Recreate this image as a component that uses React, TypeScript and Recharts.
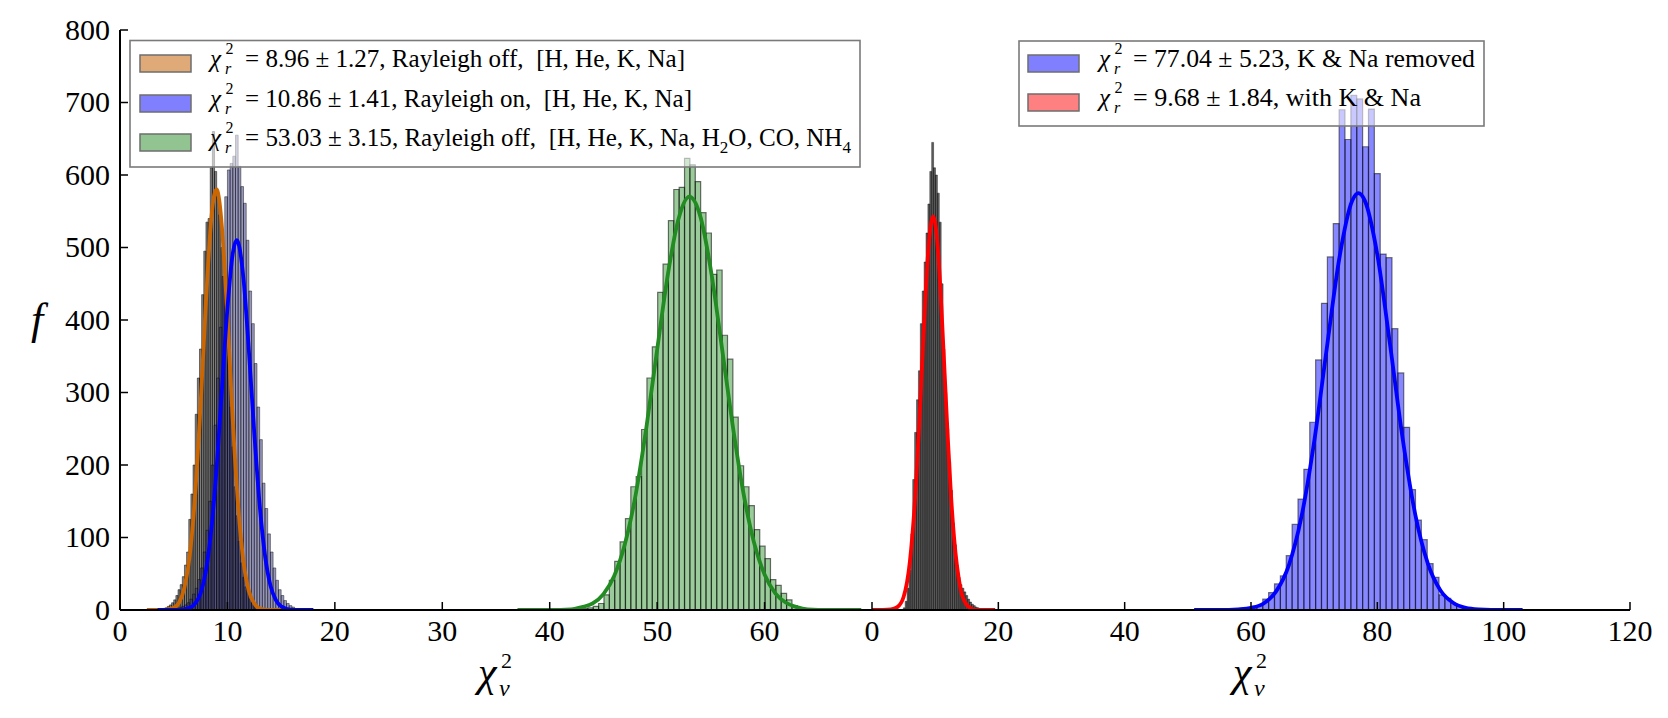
import React from 'react';
import { ComposedChart, Line, XAxis, YAxis, ReferenceArea } from 'recharts';

const FONT = "'Liberation Serif', 'DejaVu Serif', serif";

// ---------- shared axis values ----------
const fTicks = [0, 100, 200, 300, 400, 500, 600, 700, 800];
const leftXTicks = [0, 10, 20, 30, 40, 50, 60];
const rightXTicks = [0, 20, 40, 60, 80, 100, 120];

// ---------- left panel: histograms (uniform bins: start, width, counts) ----------
const offStart = 4.0;
const offWidth = 0.2;
const offCounts = [
  2, 3, 5, 7, 10, 14, 20, 28, 35, 46, 62, 80, 125, 160, 200, 270, 320, 360, 435, 495,
  535, 540, 610, 660, 605, 570, 545, 500, 460, 420, 350, 280, 225, 170, 130, 95, 65, 45,
  32, 24, 16, 11, 7, 5, 3, 2,
];

const onStart = 5.0;
const onWidth = 0.25;
const onCounts = [
  1, 2, 3, 5, 7, 10, 15, 22, 30, 42, 58, 80, 110, 150, 200, 255, 320, 390, 460, 570,
  607, 616, 626, 655, 612, 584, 561, 510, 440, 395, 340, 280, 235, 175, 140, 105, 80, 58,
  41, 28, 20, 13, 9, 6, 4, 2, 1,
];

const molStart = 41.55;
const molWidth = 0.5;
const molCounts = [
  1, 1, 1, 2, 3, 5, 9, 21, 41, 67, 94, 126, 170, 184, 249, 320, 363, 438, 477, 537, 580,
  583, 623, 614, 591, 548, 520, 463, 469, 379, 346, 266, 199, 170, 144, 111, 88, 71, 42,
  34, 23, 14, 6, 2, 1, 1, 0, 1,
];

// ---------- right panel: histograms ----------
const removedStart = 58.14;
const removedWidth = 0.93;
const removedCounts = [
  1, 2, 3, 6, 15, 24, 36, 47, 75, 118, 153, 194, 259, 345, 423, 487, 533, 690, 649, 710,
  705, 639, 691, 602, 491, 486, 388, 327, 252, 166, 124, 97, 64, 45, 21, 16, 9, 5, 3, 2, 1, 1,
];

const withStart = 4.95;
const withWidth = 0.3;
const withCounts = [
  3, 12, 30, 55, 105, 180, 245, 290, 330, 395, 440, 480, 520, 560, 605, 645, 610, 600, 575,
  535, 450, 360, 300, 250, 205, 165, 120, 90, 62, 45, 35, 30, 25, 20, 15, 11, 8, 6, 4, 3, 2,
];

// ---------- Gaussian fit curves (x, f) ----------
const offFitX = [2.5, 4, 5, 5.5, 6, 6.5, 7, 7.5, 8, 8.5, 8.75, 9, 9.25, 9.5, 10, 10.5, 11, 11.5, 12, 12.5, 13, 14, 15.5];
const offFitY = [0, 0, 3, 10, 31, 76, 160, 283, 425, 540, 571, 580, 564, 526, 403, 261, 143, 66, 26, 9, 2, 0, 0];

const onFitX = [3.5, 5.5, 6.5, 7, 7.5, 8, 8.5, 9, 9.5, 10, 10.5, 10.85, 11, 11.5, 12, 12.5, 13, 13.5, 14, 14.5, 15, 16, 18];
const onFitY = [0, 0, 3, 9, 23, 54, 111, 197, 307, 416, 492, 510, 507, 456, 357, 244, 145, 75, 34, 14, 5, 0, 0];

const molFitX = [37, 40, 42, 43, 44, 45, 46, 47, 48, 49, 50, 51, 52, 53, 54, 55, 56, 57, 58, 59, 60, 61, 62, 63, 64, 66, 69];
const molFitY = [0, 0, 1, 4, 9, 22, 47, 91, 159, 252, 359, 463, 540, 570, 544, 469, 365, 258, 164, 94, 49, 23, 10, 4, 1, 0, 0];

const withFitX = [0, 3, 4, 5, 6, 7, 7.5, 8, 8.5, 9, 9.68, 10, 10.5, 11, 11.5, 12, 12.5, 13, 14, 15, 16, 17, 19.5];
const withFitY = [0, 1, 4, 18, 67, 179, 261, 351, 438, 506, 543, 534, 489, 415, 326, 237, 159, 99, 30, 7, 1, 0, 0];

const removedFitX = [51, 55, 58, 60, 62, 64, 66, 68, 70, 72, 74, 76, 77, 78, 80, 82, 84, 86, 88, 90, 92, 94, 96, 100, 103];
const removedFitY = [0, 0, 1, 3, 9, 26, 62, 129, 232, 361, 486, 564, 575, 565, 490, 367, 237, 132, 64, 27, 10, 3, 1, 0, 0];

// ---------- legend labels ----------
type Seg = { t: string; sub?: boolean };
const leftLegend: { swatch: string; stat: Seg[] }[] = [
  { swatch: '#e0aa78', stat: [{ t: '= 8.96 ± 1.27, Rayleigh off,  [H, He, K, Na]' }] },
  { swatch: '#8080ff', stat: [{ t: '= 10.86 ± 1.41, Rayleigh on,  [H, He, K, Na]' }] },
  {
    swatch: '#92c492',
    stat: [
      { t: '= 53.03 ± 3.15, Rayleigh off,  [H, He, K, Na, H' },
      { t: '2', sub: true },
      { t: 'O, CO, NH' },
      { t: '4', sub: true },
    ],
  },
];
const rightLegend: { swatch: string; stat: Seg[] }[] = [
  { swatch: '#8080ff', stat: [{ t: '= 77.04 ± 5.23, K & Na removed' }] },
  { swatch: '#ff8080', stat: [{ t: '= 9.68 ± 1.84, with K & Na' }] },
];

// ---------- helpers ----------
const toBins = (start: number, width: number, counts: number[]) =>
  counts
    .map((c, i) => ({ x0: start + i * width, x1: start + (i + 1) * width, c }))
    .filter((b) => b.c > 0);

const toPoints = (xs: number[], ys: number[]) => xs.map((x, i) => ({ x, y: ys[i] }));

const TICK_FS = 30;
const XTick = (props: any) => {
  const { x, y, payload } = props;
  return (
    <text x={x} y={y} dy={TICK_FS * 0.68} textAnchor="middle" fontFamily={FONT} fontSize={TICK_FS} fill="#000">
      {payload.value}
    </text>
  );
};
const YTick = (props: any) => {
  const { x, y, payload } = props;
  return (
    <text x={x} y={y} dy={TICK_FS * 0.33} textAnchor="end" fontFamily={FONT} fontSize={TICK_FS} fill="#000">
      {payload.value}
    </text>
  );
};

const frame = { stroke: '#000', strokeWidth: 2 };
const tickMark = { stroke: '#000', strokeWidth: 1.5 };

type HistStyle = { fill: string; fillOpacity: number; stroke: string; strokeOpacity: number; strokeWidth: number };

const histAreas = (key: string, bins: { x0: number; x1: number; c: number }[], s: HistStyle) =>
  bins.map((b, i) => (
    <ReferenceArea
      key={`${key}-${i}`}
      x1={b.x0}
      x2={b.x1}
      y1={0}
      y2={b.c}
      fill={s.fill}
      fillOpacity={s.fillOpacity}
      stroke={s.stroke}
      strokeOpacity={s.strokeOpacity}
      strokeWidth={s.strokeWidth}
    />
  ));

const fitLine = (key: string, pts: { x: number; y: number }[], color: string) => (
  <Line
    key={key}
    data={pts}
    dataKey="y"
    type="monotone"
    stroke={color}
    strokeWidth={3.8}
    dot={false}
    activeDot={false}
    isAnimationActive={false}
  />
);

const grayNarrow: HistStyle = { fill: '#000', fillOpacity: 0.5, stroke: '#000', strokeOpacity: 0.6, strokeWidth: 0.8 };
const blueNarrow: HistStyle = { fill: '#30307a', fillOpacity: 0.5, stroke: '#000', strokeOpacity: 0.55, strokeWidth: 0.8 };
const darkNarrow: HistStyle = { fill: '#000', fillOpacity: 0.62, stroke: '#000', strokeOpacity: 0.5, strokeWidth: 0.8 };
const greenWide: HistStyle = { fill: '#228b22', fillOpacity: 0.45, stroke: '#000', strokeOpacity: 0.55, strokeWidth: 1.2 };
const blueWide: HistStyle = { fill: '#0000ff', fillOpacity: 0.47, stroke: '#000', strokeOpacity: 0.5, strokeWidth: 1.2 };

// ---------- math-style label pieces ----------
function ChiR({ x, y, fs }: { x: number; y: number; fs: number }) {
  return (
    <g fontFamily={FONT} fill="#000">
      <text x={x} y={y} fontSize={fs} fontStyle="italic">χ</text>
      <text x={x + fs * 0.62} y={y - fs * 0.52} fontSize={fs * 0.64}>2</text>
      <text x={x + fs * 0.6} y={y + fs * 0.26} fontSize={fs * 0.64} fontStyle="italic">r</text>
    </g>
  );
}

function StatText({ x, y, fs, segs, length }: { x: number; y: number; fs: number; segs: Seg[]; length: number }) {
  let shifted = false;
  return (
    <text
      x={x}
      y={y}
      fontFamily={FONT}
      fontSize={fs}
      fill="#000"
      textLength={length}
      lengthAdjust="spacingAndGlyphs"
      style={{ whiteSpace: 'pre' }}
    >
      {segs.map((s, i) => {
        let dy = 0;
        if (s.sub && !shifted) { dy = fs * 0.28; shifted = true; }
        else if (!s.sub && shifted) { dy = -fs * 0.28; shifted = false; }
        return (
          <tspan key={i} dy={dy} fontSize={s.sub ? fs * 0.68 : fs}>{s.t}</tspan>
        );
      })}
    </text>
  );
}

function Legend({
  box, rows, swatchX, chiX, textX, baselines, lengths,
}: {
  box: [number, number, number, number];
  rows: { swatch: string; stat: Seg[] }[];
  swatchX: number; chiX: number; textX: number; baselines: number[]; lengths: number[];
}) {
  const fs = 25;
  return (
    <g>
      <rect x={box[0]} y={box[1]} width={box[2]} height={box[3]} fill="#fff" fillOpacity={0.55} stroke="#7a7a7a" strokeWidth={1.6} />
      {rows.map((r, i) => (
        <g key={i}>
          <rect x={swatchX} y={baselines[i] - 12} width={51} height={17} fill={r.swatch} stroke="#6e6e6e" strokeWidth={1.5} />
          <ChiR x={chiX} y={baselines[i]} fs={fs} />
          <StatText x={textX} y={baselines[i]} fs={fs} segs={r.stat} length={lengths[i]} />
        </g>
      ))}
    </g>
  );
}

function ChiNu({ x, y }: { x: number; y: number }) {
  return (
    <g fontFamily={FONT} fill="#000">
      <text x={x} y={y} fontSize={42} fontStyle="italic">χ</text>
      <text x={x + 23} y={y - 18} fontSize={22}>2</text>
      <text x={x + 21} y={y + 10} fontSize={24} fontStyle="italic">ν</text>
    </g>
  );
}

// ---------- panels ----------
function LeftPanel() {
  return (
    <ComposedChart width={880} height={718} margin={{ top: 30, right: 8, bottom: 0, left: 20 }}>
      <XAxis
        type="number" dataKey="x" domain={[0, 70]} ticks={leftXTicks} allowDataOverflow interval={0}
        height={108} tickSize={-8} tickMargin={19} tick={<XTick />} axisLine={frame} tickLine={tickMark}
      />
      <XAxis
        xAxisId="top" orientation="top" type="number" domain={[0, 70]} ticks={leftXTicks} allowDataOverflow
        interval={0} height={0} tickSize={-8} tick={false} axisLine={frame} tickLine={tickMark}
      />
      <YAxis
        type="number" domain={[0, 800]} ticks={fTicks} allowDataOverflow interval={0}
        width={100} tickSize={-8} tickMargin={18} tick={<YTick />} axisLine={frame} tickLine={tickMark}
      />
      <YAxis
        yAxisId="r" orientation="right" type="number" domain={[0, 800]} ticks={fTicks} allowDataOverflow
        interval={0} width={0} tickSize={-8} tick={false} axisLine={frame} tickLine={tickMark}
      />
      {histAreas('off', toBins(offStart, offWidth, offCounts), grayNarrow)}
      {histAreas('on', toBins(onStart, onWidth, onCounts), blueNarrow)}
      {histAreas('mol', toBins(molStart, molWidth, molCounts), greenWide)}
      {fitLine('offFit', toPoints(offFitX, offFitY), '#cc6600')}
      {fitLine('onFit', toPoints(onFitX, onFitY), '#0000ff')}
      {fitLine('molFit', toPoints(molFitX, molFitY), '#228b22')}
    </ComposedChart>
  );
}

function RightPanel() {
  return (
    <ComposedChart width={816} height={718} margin={{ top: 30, right: 38, bottom: 0, left: 20 }}>
      <XAxis
        type="number" dataKey="x" domain={[0, 120]} ticks={rightXTicks} allowDataOverflow interval={0}
        height={108} tickSize={-8} tickMargin={19} tick={<XTick />} axisLine={frame} tickLine={tickMark}
      />
      <XAxis
        xAxisId="top" orientation="top" type="number" domain={[0, 120]} ticks={rightXTicks} allowDataOverflow
        interval={0} height={0} tickSize={-8} tick={false} axisLine={frame} tickLine={tickMark}
      />
      <YAxis
        type="number" domain={[0, 800]} ticks={fTicks} allowDataOverflow interval={0}
        width={0} tickSize={-8} tick={false} axisLine={frame} tickLine={tickMark}
      />
      <YAxis
        yAxisId="r" orientation="right" type="number" domain={[0, 800]} ticks={fTicks} allowDataOverflow
        interval={0} width={0} tickSize={-8} tick={false} axisLine={frame} tickLine={tickMark}
      />
      {histAreas('with', toBins(withStart, withWidth, withCounts), darkNarrow)}
      {histAreas('removed', toBins(removedStart, removedWidth, removedCounts), blueWide)}
      {fitLine('withFit', toPoints(withFitX, withFitY), '#ff0000')}
      {fitLine('removedFit', toPoints(removedFitX, removedFitY), '#0000ff')}
    </ComposedChart>
  );
}

export default function App() {
  return (
    <div style={{ position: 'absolute', left: 0, top: 0, width: 1668, height: 718, background: '#fff', overflow: 'hidden' }}>
      <div style={{ position: 'absolute', left: 0, top: 0 }}>
        <LeftPanel />
      </div>
      <div style={{ position: 'absolute', left: 852, top: 0 }}>
        <RightPanel />
      </div>
      <svg width={1668} height={718} style={{ position: 'absolute', left: 0, top: 0, pointerEvents: 'none' }}>
        <Legend
          box={[130, 40.5, 730, 126.5]}
          rows={leftLegend}
          swatchX={140}
          chiX={210}
          textX={245}
          baselines={[67, 107, 146]}
          lengths={[440, 447, 606]}
        />
        <Legend
          box={[1019, 41, 465, 85]}
          rows={rightLegend}
          swatchX={1028}
          chiX={1099}
          textX={1133}
          baselines={[67, 106]}
          lengths={[342, 288]}
        />
        <text x={37} y={334} fontFamily={FONT} fontSize={44} fontStyle="italic" textAnchor="middle" fill="#000">f</text>
        <ChiNu x={478} y={686} />
        <ChiNu x={1233} y={686} />
      </svg>
    </div>
  );
}
